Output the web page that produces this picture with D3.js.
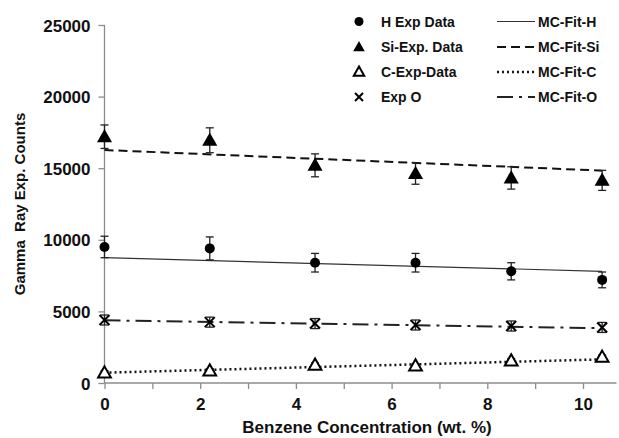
<!DOCTYPE html>
<html>
<head>
<meta charset="utf-8">
<script src="https://cdn.jsdelivr.net/npm/d3@7"></script>
<style>
  body { margin: 0; background: #fff; }
  svg { display: block; font-family: "Liberation Sans", Arial, sans-serif; }
  .axisTitle { font-size: 17px; font-weight: bold; fill: #111; }
  .legText { font-size: 14px; font-weight: bold; fill: #111; }
</style>
</head>
<body>
<div id="chart"></div>
<script>
'use strict';

// data
let conc = [0, 2.2, 4.4, 6.5, 8.5, 10.4];

let hExp = [9500, 9400, 8400, 8400, 7800, 7200];
let hErr = [750, 800, 650, 650, 600, 550];
let siExp = [17200, 16950, 15200, 14630, 14320, 14150];
let siErr = [820, 870, 800, 750, 780, 700];
let cExp = [700, 850, 1250, 1200, 1550, 1800];
let cErr = [150, 150, 150, 150, 150, 150];
let oExp = [4400, 4250, 4150, 4050, 3980, 3880];
let oErr = [350, 350, 350, 350, 350, 350];

// fit lines: value at first and last concentration
let fitX = [0, 10.4];
let fitH = [8750, 7800];
let fitSi = [16270, 14830];
let fitC = [720, 1650];
let fitO = [4380, 3830];

let xTicks = [0, 2, 4, 6, 8, 10];
let yTicks = [0, 5000, 10000, 15000, 20000, 25000];

let width = 619;
let height = 438;

let svg = d3.select('#chart').append('svg')
  .attr('width', width)
  .attr('height', height);

let xScale = d3.scaleLinear().domain([0, 10.7]).range([104.5, 616.5]);
let yScale = d3.scaleLinear().domain([0, 25000]).range([383, 25]);

//AXES=======================================================
let xAxis = d3.axisBottom(xScale).tickValues(d3.range(0, 11, 1)).tickSize(6).tickPadding(9);
let yAxis = d3.axisLeft(yScale).tickValues(yTicks).tickSize(6).tickPadding(8).tickFormat(d3.format('d'));

let gx = svg.append('g').attr('transform', `translate(0, ${yScale(0)})`).call(xAxis);
let gy = svg.append('g').attr('transform', `translate(${xScale(0)}, 0)`).call(yAxis);

[gx, gy].forEach(g => {
  g.attr('font-size', null).attr('font-family', null);
  g.select('.domain').attr('stroke', '#8c8c8c').attr('stroke-width', 1.3);
  g.selectAll('.tick line').attr('stroke', '#8c8c8c').attr('stroke-width', 1.3);
  g.selectAll('.tick text')
    .style('font-size', '17px')
    .style('font-weight', 'bold')
    .style('fill', '#111');
});
gx.select('.domain').attr('d', `M${xScale(0)},0H616.5`);
gy.select('.domain').attr('d', `M0,${yScale(25000)}V${yScale(0)}`);
// only the even ticks carry a label
gx.selectAll('.tick text').filter(d => !xTicks.includes(d)).remove();
gx.selectAll('.tick text').attr('dy', '0.72em');
gy.selectAll('.tick text').attr('dy', '0.36em');

svg.append('text').attr('class', 'axisTitle')
  .attr('x', 367).attr('y', 433)
  .attr('text-anchor', 'middle')
  .text('Benzene Concentration (wt. %)');

svg.append('text').attr('class', 'axisTitle')
  .attr('transform', 'translate(25, 204) rotate(-90)')
  .attr('text-anchor', 'middle')
  .style('font-size', '15px')
  .style('white-space', 'pre')
  .text('Gamma  Ray Exp. Counts');

//FIT LINES==================================================
let fits = [
  { vals: fitH, dash: null, w: 1.2, color: '#333' },
  { vals: fitSi, dash: '9,5', w: 2, color: '#111' },
  { vals: fitC, dash: '2,3', w: 2.5, color: '#111' },
  { vals: fitO, dash: '16,6,3,6', w: 2, color: '#222' }
];
let line = d3.line().x(d => xScale(d[0])).y(d => yScale(d[1]));
fits.forEach(f => {
  svg.append('path')
    .attr('d', line(fitX.map((x, i) => [x, f.vals[i]])))
    .attr('fill', 'none')
    .attr('stroke', f.color)
    .attr('stroke-width', f.w)
    .attr('stroke-dasharray', f.dash);
});

//ERROR BARS + MARKERS=======================================
function errorBars(vals, errs) {
  let g = svg.append('g').attr('stroke', '#222').attr('stroke-width', 1.3);
  conc.forEach((c, i) => {
    let x = xScale(c), y1 = yScale(vals[i] + errs[i]), y2 = yScale(vals[i] - errs[i]);
    g.append('line').attr('x1', x).attr('x2', x).attr('y1', y1).attr('y2', y2);
    g.append('line').attr('x1', x - 4).attr('x2', x + 4).attr('y1', y1).attr('y2', y1);
    g.append('line').attr('x1', x - 4).attr('x2', x + 4).attr('y1', y2).attr('y2', y2);
  });
}
errorBars(hExp, hErr);
errorBars(siExp, siErr);
errorBars(cExp, cErr);
errorBars(oExp, oErr);

function triPath(s) {
  return `M0,${-s * 0.6}L${s * 0.58},${s * 0.42}L${-s * 0.58},${s * 0.42}Z`;
}
function xPath(s) {
  return `M${-s},${-s}L${s},${s}M${-s},${s}L${s},${-s}`;
}

// H: filled circles
svg.append('g').selectAll('circle').data(hExp).enter().append('circle')
  .attr('cx', (d, i) => xScale(conc[i]))
  .attr('cy', d => yScale(d))
  .attr('r', 5)
  .attr('fill', '#000');

// Si: filled triangles
svg.append('g').selectAll('path').data(siExp).enter().append('path')
  .attr('transform', (d, i) => `translate(${xScale(conc[i])}, ${yScale(d)})`)
  .attr('d', triPath(13))
  .attr('fill', '#000');

// C: open triangles
svg.append('g').selectAll('path').data(cExp).enter().append('path')
  .attr('transform', (d, i) => `translate(${xScale(conc[i])}, ${yScale(d)})`)
  .attr('d', triPath(11))
  .attr('fill', '#fff')
  .attr('stroke', '#000')
  .attr('stroke-width', 2);

// O: crosses
svg.append('g').selectAll('path').data(oExp).enter().append('path')
  .attr('transform', (d, i) => `translate(${xScale(conc[i])}, ${yScale(d)})`)
  .attr('d', xPath(5))
  .attr('stroke', '#000')
  .attr('stroke-width', 2);

//LEGEND=====================================================
let legRows = [21.5, 47, 72, 97];
let legNames = ['H Exp Data', 'Si-Exp. Data', 'C-Exp-Data', 'Exp O'];
let fitNames = ['MC-Fit-H', 'MC-Fit-Si', 'MC-Fit-C', 'MC-Fit-O'];

let leg = svg.append('g');
leg.append('circle').attr('cx', 359).attr('cy', legRows[0]).attr('r', 4.5).attr('fill', '#000');
leg.append('path').attr('transform', `translate(359, ${legRows[1]})`).attr('d', triPath(10)).attr('fill', '#000');
leg.append('path').attr('transform', `translate(359, ${legRows[2]})`).attr('d', triPath(9))
  .attr('fill', '#fff').attr('stroke', '#000').attr('stroke-width', 2);
leg.append('path').attr('transform', `translate(359, ${legRows[3]})`).attr('d', xPath(4))
  .attr('stroke', '#000').attr('stroke-width', 2);

legNames.forEach((n, i) => {
  leg.append('text').attr('class', 'legText')
    .attr('x', 381).attr('y', legRows[i]).attr('dy', '0.36em')
    .text(n);
});

fits.forEach((f, i) => {
  leg.append('line')
    .attr('x1', 497).attr('x2', 535)
    .attr('y1', legRows[i]).attr('y2', legRows[i])
    .attr('stroke', f.color)
    .attr('stroke-width', f.w)
    .attr('stroke-dasharray', f.dash);
  leg.append('text').attr('class', 'legText')
    .attr('x', 538).attr('y', legRows[i]).attr('dy', '0.36em')
    .text(fitNames[i]);
});
</script>
</body>
</html>
